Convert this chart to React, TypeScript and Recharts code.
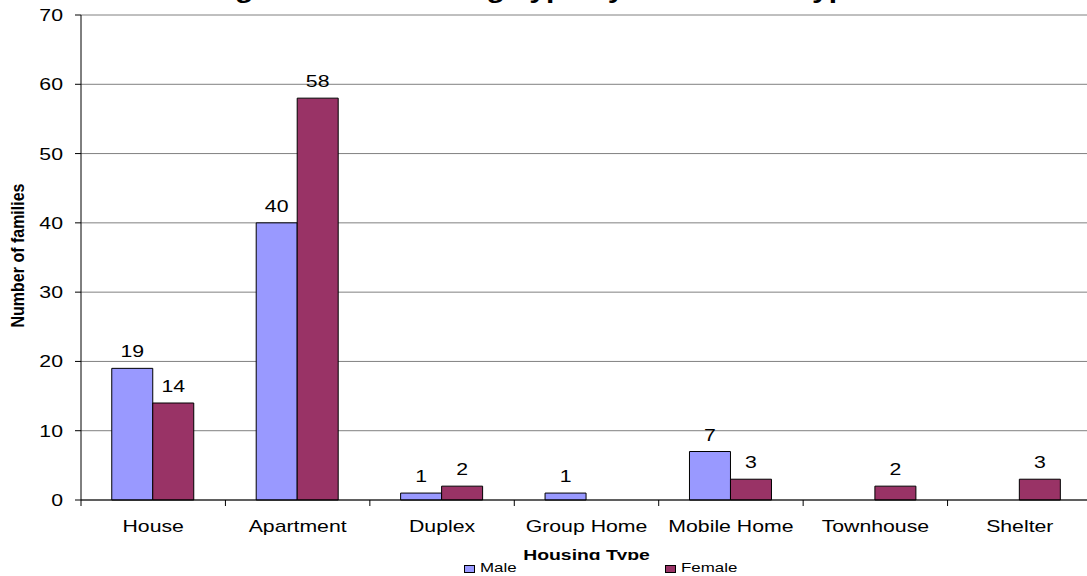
import React from "react";
import { BarChart, Bar, XAxis, YAxis, CartesianGrid, Legend, LabelList, Label } from "recharts";

// Families per housing type, split by sex of the head of household.
const housingTypes = ["House", "Apartment", "Duplex", "Group Home", "Mobile Home", "Townhouse", "Shelter"];
const maleFamilies = [19, 40, 1, 1, 7, 0, 0];
const femaleFamilies = [14, 58, 2, 0, 3, 2, 3];
const countTicks = [0, 10, 20, 30, 40, 50, 60, 70];
const seriesNames = ["Male", "Female"];

const MALE = "#9999FF";
const FEMALE = "#993366";
const FONT = '"Liberation Sans", Arial, Helvetica, sans-serif';
// the old export is drawn wide: text glyphs run about a quarter wider than tall
const STRETCH = 1.25;

const CHART_W = 1100;
const CHART_H = 580;
const MARGIN = { top: 15, right: 8, left: 0, bottom: 2 };
const Y_AXIS_W = 81;
const PLOT_W = CHART_W - MARGIN.left - MARGIN.right - Y_AXIS_W;

const rows = housingTypes.map((type, i) => ({
  type,
  male: maleFamilies[i],
  female: femaleFamilies[i],
}));

// category label centred under the group, tick mark on the group boundary
function CategoryTick(props: any) {
  const { x, y, payload } = props;
  const half = payload && payload.offset ? payload.offset : PLOT_W / housingTypes.length / 2;
  return (
    <g>
      <line x1={x - half} x2={x - half} y1={y - 6} y2={y} stroke="#000" strokeWidth={1} />
      <text
        transform={`translate(${x},${y + 26}) scale(${STRETCH},1)`}
        textAnchor="middle"
        fontSize={17}
        fontFamily={FONT}
        fill="#000"
      >
        {payload.value}
      </text>
    </g>
  );
}

function CountTick(props: any) {
  const { x, y, payload } = props;
  return (
    <text
      transform={`translate(${x},${y}) scale(${STRETCH},1)`}
      textAnchor="end"
      dy={6}
      fontSize={17}
      fontFamily={FONT}
      fill="#000"
    >
      {payload.value}
    </text>
  );
}

function CountLabel(props: any) {
  const { x, y, width, value } = props;
  if (!value) return null;
  const cx = Number(x) + Number(width) / 2;
  return (
    <text
      transform={`translate(${cx},${Number(y) - 11}) scale(${STRETCH},1)`}
      textAnchor="middle"
      fontSize={17}
      fontFamily={FONT}
      fill="#000"
    >
      {value}
    </text>
  );
}

function AxisTitleX(props: any) {
  const { viewBox } = props;
  const cx = viewBox.x + viewBox.width / 2;
  return (
    <text
      transform={`translate(${cx},${viewBox.y + viewBox.height}) scale(${STRETCH},1)`}
      textAnchor="middle"
      fontSize={15.5}
      fontWeight="bold"
      fontFamily={FONT}
      fill="#000"
    >
      Housing Type
    </text>
  );
}

function AxisTitleY(props: any) {
  const { viewBox } = props;
  const cy = viewBox.y + viewBox.height / 2 - 2;
  return (
    <text
      transform={`translate(24,${cy}) rotate(-90) scale(1,1.15)`}
      textAnchor="middle"
      fontSize={16}
      fontWeight="bold"
      fontFamily={FONT}
      fill="#000"
    >
      Number of families
    </text>
  );
}

const legendLeft = [464, 665];

function SexLegend(props: any) {
  const payload = [...(props.payload || [])].sort(
    (a: any, b: any) => seriesNames.indexOf(a.value) - seriesNames.indexOf(b.value)
  );
  return (
    <div style={{ position: "relative", height: 18, background: "#fff" }}>
      {payload.map((item: any, i: number) => (
        <React.Fragment key={item.value}>
          <span
            style={{
              position: "absolute",
              left: legendLeft[i],
              top: 5,
              width: 9,
              height: 6,
              background: item.color,
              border: "1px solid #000",
            }}
          />
          <span
            style={{
              position: "absolute",
              left: legendLeft[i] + 16,
              top: 0,
              fontFamily: FONT,
              fontSize: 13.5,
              lineHeight: "16px",
              color: "#000",
              whiteSpace: "nowrap",
              transform: `scaleX(${STRETCH})`,
              transformOrigin: "left center",
            }}
          >
            {item.value}
          </span>
        </React.Fragment>
      ))}
    </div>
  );
}

export default function App() {
  return (
    <div
      style={{
        position: "absolute",
        left: 0,
        top: 0,
        width: 1087,
        height: 576,
        overflow: "hidden",
        background: "#fff",
      }}
    >
      <BarChart
        width={CHART_W}
        height={CHART_H}
        data={rows}
        margin={MARGIN}
        barCategoryGap="21.3%"
        barGap={0}
      >
        <CartesianGrid vertical={false} stroke="#808080" strokeWidth={1} />
        <XAxis
          dataKey="type"
          height={60}
          interval={0}
          axisLine={{ stroke: "#000" }}
          tickLine={false}
          tickSize={6}
          tickMargin={0}
          tick={<CategoryTick />}
        >
          <Label content={<AxisTitleX />} />
        </XAxis>
        <YAxis
          width={Y_AXIS_W}
          domain={[0, 70]}
          ticks={countTicks}
          interval={0}
          axisLine={{ stroke: "#000" }}
          tickLine={{ stroke: "#000" }}
          tickSize={6}
          tickMargin={12}
          tick={<CountTick />}
        >
          <Label content={<AxisTitleY />} />
        </YAxis>
        <Legend verticalAlign="bottom" content={<SexLegend />} />
        <Bar dataKey="male" name="Male" fill={MALE} stroke="#000" strokeWidth={1} isAnimationActive={false}>
          <LabelList dataKey="male" content={<CountLabel />} />
        </Bar>
        <Bar dataKey="female" name="Female" fill={FEMALE} stroke="#000" strokeWidth={1} isAnimationActive={false}>
          <LabelList dataKey="female" content={<CountLabel />} />
        </Bar>
      </BarChart>
      <svg
        width={1087}
        height={12}
        style={{ position: "absolute", left: 0, top: 0, overflow: "visible" }}
      >
        <text
          transform={`translate(536,-2) scale(${STRETCH},1)`}
          textAnchor="middle"
          fontSize={24}
          fontWeight="bold"
          fontFamily={FONT}
          fill="#000"
        >
          Figure 4.12: Housing Type by Household Type
        </text>
      </svg>
    </div>
  );
}
